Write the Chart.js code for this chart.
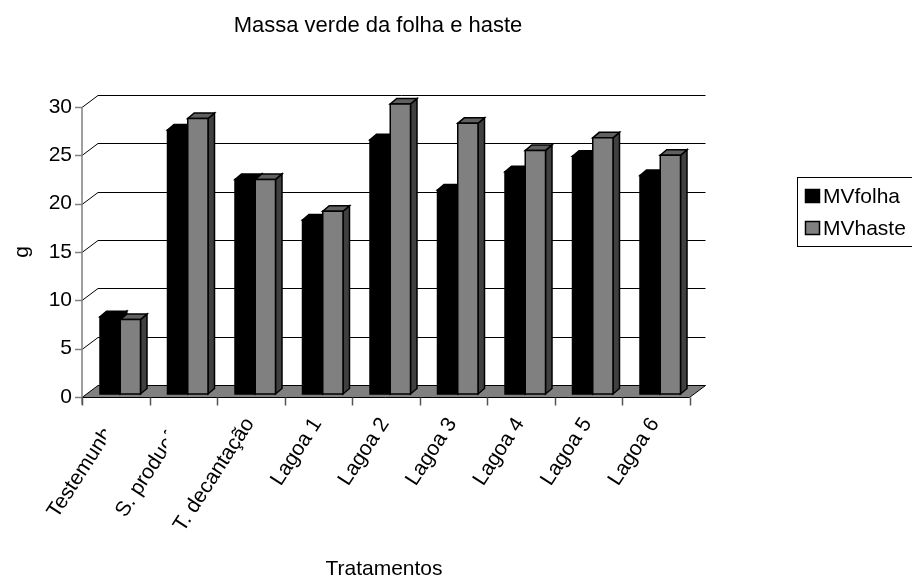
<!DOCTYPE html>
<html>
<head>
<meta charset="utf-8">
<script src="https://cdn.jsdelivr.net/npm/chart.js@4.4.1/dist/chart.umd.min.js"></script>
<style>
  html, body { margin: 0; padding: 0; background: #fff; }
  #wrap { width: 912px; height: 577px; position: relative; }
</style>
</head>
<body>
<div id="wrap"><canvas id="chart"></canvas></div>
<script>
const categories = ['Testemunha', 'S. produção', 'T. decantação', 'Lagoa 1', 'Lagoa 2', 'Lagoa 3', 'Lagoa 4', 'Lagoa 5', 'Lagoa 6'];
const mvFolha = [8.0, 27.3, 22.2, 18.0, 26.3, 21.1, 23.0, 24.6, 22.6];
const mvHaste = [7.7, 28.5, 22.2, 18.9, 30.0, 28.0, 25.2, 26.5, 24.7];
const yTicks = [0, 5, 10, 15, 20, 25, 30];

const FONT = "21px 'Liberation Sans', Arial, sans-serif";
// depth of the floor / back wall, and of the bars
const WALL_DX = 16, WALL_DY = 12;
const BAR_OX = 4.5, BAR_OY = 3, BAR_DX = 6.5, BAR_DY = 5.5;

function poly(ctx, pts, fill, stroke, lw) {
    ctx.beginPath();
    ctx.moveTo(pts[0][0], pts[0][1]);
    for (let i = 1; i < pts.length; i++) ctx.lineTo(pts[i][0], pts[i][1]);
    ctx.closePath();
    if (fill) { ctx.fillStyle = fill; ctx.fill(); }
    if (stroke) { ctx.strokeStyle = stroke; ctx.lineWidth = lw || 1; ctx.stroke(); }
}

function drawBar(ctx, el, colors) {
    const l = el.x - el.width / 2 + BAR_OX, r = el.x + el.width / 2 + BAR_OX;
    const t = el.y - BAR_OY, b = el.base - BAR_OY;
    poly(ctx, [[r, t], [r + BAR_DX, t - BAR_DY], [r + BAR_DX, b - BAR_DY], [r, b]], colors.side, '#000', 1.5);
    poly(ctx, [[l, t], [r, t], [r + BAR_DX, t - BAR_DY], [l + BAR_DX, t - BAR_DY]], colors.top, '#000', 1.5);
    poly(ctx, [[l, t], [r, t], [r, b], [l, b]], colors.front, '#000', 1.5);
}

const barColors = [
    { front: '#000000', top: '#000000', side: '#000000' },
    { front: '#808080', top: '#606060', side: '#404040' }
];

const threeD = {
    id: 'threeD',
    beforeDatasetsDraw(chart) {
        const { ctx, chartArea: a, scales: { x, y } } = chart;
        ctx.save();

        // back wall gridlines with the diagonal joins to the axis
        ctx.strokeStyle = '#000';
        ctx.lineWidth = 1;
        yTicks.forEach(v => {
            if (v === 0) return;
            const py = Math.round(y.getPixelForValue(v)) + 0.5;
            ctx.beginPath();
            ctx.moveTo(a.left, py);
            ctx.lineTo(a.left + WALL_DX, py - WALL_DY);
            ctx.lineTo(a.right + WALL_DX, py - WALL_DY);
            ctx.stroke();
        });

        // floor
        const fb = Math.round(a.bottom) + 0.5;
        poly(ctx, [[a.left, fb], [a.right, fb], [a.right + WALL_DX, fb - WALL_DY], [a.left + WALL_DX, fb - WALL_DY]], '#808080', '#000', 1);

        // y axis and ticks
        ctx.strokeStyle = '#808080';
        ctx.lineWidth = 1.5;
        ctx.beginPath();
        ctx.moveTo(a.left, y.getPixelForValue(yTicks[yTicks.length - 1]));
        ctx.lineTo(a.left, fb + 7);
        yTicks.forEach(v => {
            const py = Math.round(y.getPixelForValue(v)) + 0.5;
            ctx.moveTo(a.left - 7, py);
            ctx.lineTo(a.left, py);
        });
        ctx.stroke();

        // x ticks between categories
        const cw = x.getPixelForValue(1) - x.getPixelForValue(0);
        ctx.strokeStyle = '#555';
        ctx.beginPath();
        for (let i = 0; i <= categories.length; i++) {
            const px = Math.round(x.getPixelForValue(0) - cw / 2 + i * cw) + 0.5;
            ctx.moveTo(px, fb);
            ctx.lineTo(px, fb + 8);
        }
        ctx.stroke();

        // bars, category by category so the grey ones cover the black sides
        const metas = chart.data.datasets.map((d, i) => chart.getDatasetMeta(i));
        for (let i = 0; i < categories.length; i++) {
            metas.forEach((m, di) => drawBar(ctx, m.data[i], barColors[di]));
        }

        ctx.restore();
        return false;
    },
    afterDraw(chart) {
        const { ctx, chartArea: a, scales: { x, y } } = chart;
        ctx.save();
        ctx.fillStyle = '#000';

        ctx.textAlign = 'center';
        ctx.textBaseline = 'alphabetic';
        ctx.font = "22px 'Liberation Sans', Arial, sans-serif";
        ctx.fillText('Massa verde da folha e haste', 378, 32);
        ctx.font = FONT;
        ctx.fillText('Tratamentos', 384, 575);

        ctx.textAlign = 'right';
        ctx.textBaseline = 'middle';
        yTicks.forEach(v => ctx.fillText(String(v), a.left - 10, y.getPixelForValue(v)));

        // rotated category labels; the first two are cut short as in the original
        const cut = { 0: -10, 1: -17 };
        categories.forEach((c, i) => {
            const cx = x.getPixelForValue(i);
            ctx.save();
            if (cut[i] !== undefined) {
                ctx.beginPath();
                ctx.rect(0, a.bottom, cx + cut[i], 200);
                ctx.clip();
            }
            ctx.translate(cx - 1, a.bottom + 23);
            ctx.rotate(-57 * Math.PI / 180);
            ctx.textAlign = 'right';
            ctx.textBaseline = 'middle';
            ctx.fillText(c, 0, 0);
            ctx.restore();
        });

        ctx.save();
        ctx.translate(22, (a.top + a.bottom) / 2);
        ctx.rotate(-Math.PI / 2);
        ctx.textAlign = 'center';
        ctx.textBaseline = 'middle';
        ctx.fillText('g', 0, 0);
        ctx.restore();

        // legend box
        ctx.strokeStyle = '#000';
        ctx.lineWidth = 1;
        ctx.strokeRect(797.5, 177.5, 140, 69);
        chart.data.datasets.forEach((ds, i) => {
            const ly = 196 + i * 32;
            ctx.fillStyle = ds.backgroundColor;
            ctx.fillRect(805, ly - 7, 15, 14);
            ctx.lineWidth = 1.5;
            ctx.strokeRect(805.5, ly - 6.5, 14, 13);
            ctx.fillStyle = '#000';
            ctx.textAlign = 'left';
            ctx.textBaseline = 'middle';
            ctx.fillText(ds.label, 823, ly + 1);
        });
        ctx.restore();
    }
};

new Chart(document.getElementById('chart'), {
    type: 'bar',
    data: {
        labels: categories,
        datasets: [
            { label: 'MVfolha', data: mvFolha, backgroundColor: '#000000' },
            { label: 'MVhaste', data: mvHaste, backgroundColor: '#808080' }
        ]
    },
    options: {
        responsive: true,
        maintainAspectRatio: false,
        animation: false,
        events: [],
        layout: { padding: { left: 82, right: 222.5, top: 107, bottom: 180 } },
        datasets: { bar: { categoryPercentage: 0.6, barPercentage: 1.0 } },
        scales: {
            x: { display: false },
            y: { display: false, min: 0, max: 30 }
        },
        plugins: { legend: { display: false }, title: { display: false }, tooltip: { enabled: false } }
    },
    plugins: [threeD]
});
</script>
</body>
</html>
